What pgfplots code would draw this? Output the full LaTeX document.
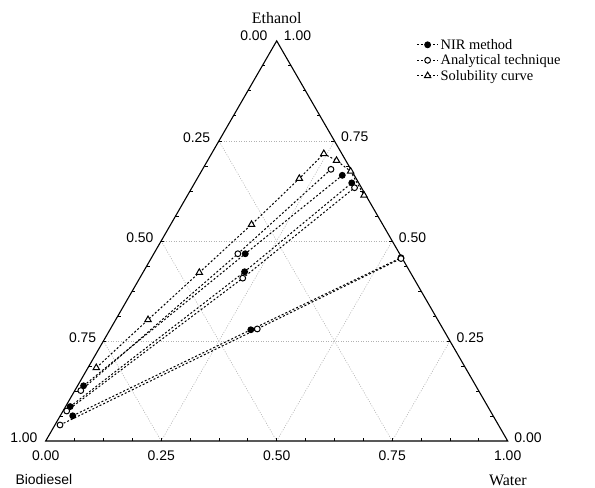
\documentclass[border=0pt]{standalone}
\usepackage{fontspec}
\setmainfont{Liberation Serif}
\newfontfamily\arial{Liberation Sans}
\usepackage{pgfplots}
\usepackage{pgfplotstable}
\pgfplotsset{compat=1.18}

% mass fractions: biodiesel (B), water (W), ethanol (E)
\pgfplotstableread{
B      W      E
0.800  0.018  0.183
0.627  0.070  0.303
0.458  0.122  0.421
0.284  0.175  0.541
0.123  0.221  0.656
0.039  0.243  0.718
0.020  0.279  0.701
0.003  0.323  0.674
0.004  0.382  0.614
}\solub

% NIR method, three tie lines (left end, feed, right end)
\pgfplotstableread{
B      W      E
0.850  0.013  0.138
0.335  0.198  0.468
0.026  0.310  0.664
}\nirA
\pgfplotstableread{
B      W      E
0.905  0.010  0.086
0.359  0.219  0.423
0.015  0.340  0.645
}\nirB
\pgfplotstableread{
B      W      E
0.910  0.027  0.063
0.417  0.305  0.278
0.003  0.540  0.458
}\nirC

% analytical technique
\pgfplotstableread{
B      W      E
0.861  0.013  0.126
0.351  0.182  0.468
0.043  0.278  0.679
}\anaA
\pgfplotstableread{
B      W      E
0.917  0.008  0.075
0.370  0.223  0.407
0.016  0.352  0.633
}\anaB
\pgfplotstableread{
B      W      E
0.949  0.011  0.040
0.402  0.318  0.280
0.003  0.541  0.456
}\anaC

\pgfplotsset{
  table/tern/.style={x expr=\thisrow{W}+0.5*\thisrow{E}, y expr=0.8660254*\thisrow{E}},
  tie/.style={black, line width=1bp, dash pattern=on 2bp off 2bp},
  gridl/.style={black!30, line width=0.6bp, dash pattern=on 1bp off 1.5bp, forget plot},
  tickm/.style={black, line width=0.8bp, forget plot},
}
\tikzset{tl/.style={font=\arial\fontsize{14}{16}\selectfont, inner sep=0pt}}

\begin{document}
\begin{tikzpicture}
\begin{axis}[
  scale only axis, width=595bp, height=488bp,
  xmin=-0.0989, xmax=1.1890, ymin=-0.1017, ymax=0.9545,
  hide axis, clip=false,
  legend style={draw=none, fill=none, at={(axis cs:0.796,0.879)}, anchor=north west,
    font=\fontsize{14.5}{17}\selectfont, row sep=0pt},
  legend cell align=left,
  legend image code/.code={\draw[#1, mark repeat=2, mark phase=2]
    plot coordinates {(0bp,0bp) (10.5bp,0bp) (21bp,0bp)};},
]
\path (rel axis cs:0,0) rectangle (rel axis cs:1,1);

% grid
\addplot[gridl] coordinates {(0.125,0.21651) (0.875,0.21651)};
\addplot[gridl] coordinates {(0.25,0.43301) (0.75,0.43301)};
\addplot[gridl] coordinates {(0.375,0.64952) (0.625,0.64952)};
\addplot[gridl] coordinates {(0.25,0) (0.625,0.64952)};
\addplot[gridl] coordinates {(0.5,0) (0.75,0.43301)};
\addplot[gridl] coordinates {(0.75,0) (0.875,0.21651)};
\addplot[gridl] coordinates {(0.25,0) (0.125,0.21651)};
\addplot[gridl] coordinates {(0.5,0) (0.25,0.43301)};
\addplot[gridl] coordinates {(0.75,0) (0.375,0.64952)};

% triangle
\addplot[black, line width=1.1bp, line join=miter, forget plot]
  coordinates {(0,0) (1,0) (0.5,0.8660254) (0,0)} -- cycle;

% ticks
\addplot[tickm, quiver={u=0, v=0.0065}] coordinates {
(0.0625,0) (0.125,0) (0.1875,0) (0.25,0) (0.3125,0) (0.375,0) (0.4375,0) (0.5,0)
(0.5625,0) (0.625,0) (0.6875,0) (0.75,0) (0.8125,0) (0.875,0) (0.9375,0)};
\addplot[tickm, quiver={u=0.0065, v=0}] coordinates {
(0.03125,0.05413) (0.0625,0.10825) (0.09375,0.16238) (0.125,0.21651) (0.15625,0.27063)
(0.1875,0.32476) (0.21875,0.37889) (0.25,0.43301) (0.28125,0.48714) (0.3125,0.54127)
(0.34375,0.59539) (0.375,0.64952) (0.40625,0.70365) (0.4375,0.75777) (0.46875,0.81190)};
\addplot[tickm, quiver={u=-0.0065, v=0}] coordinates {
(0.96875,0.05413) (0.9375,0.10825) (0.90625,0.16238) (0.875,0.21651) (0.84375,0.27063)
(0.8125,0.32476) (0.78125,0.37889) (0.75,0.43301) (0.71875,0.48714) (0.6875,0.54127)
(0.65625,0.59539) (0.625,0.64952) (0.59375,0.70365) (0.5625,0.75777) (0.53125,0.81190)};

% data
\addplot[tie, mark=*, mark size=2.9bp, mark options={solid, fill=black}] table[tern] {\nirA};
\addplot[tie, mark=*, mark size=2.9bp, mark options={solid, fill=white}] table[tern] {\anaA};
\addplot[tie, mark=triangle*, mark size=3.7bp, mark options={solid, fill=white}] table[tern] {\solub};
\addplot[tie, forget plot, mark=*, mark size=2.9bp, mark options={solid, fill=black}] table[tern] {\nirB};
\addplot[tie, forget plot, mark=*, mark size=2.9bp, mark options={solid, fill=black}] table[tern] {\nirC};
\addplot[tie, forget plot, mark=*, mark size=2.9bp, mark options={solid, fill=white}] table[tern] {\anaB};
\addplot[tie, forget plot, mark=*, mark size=2.9bp, mark options={solid, fill=white}] table[tern] {\anaC};
\legend{NIR method, Analytical technique, Solubility curve}

% tick labels: water (bottom)
\node[tl, anchor=north, yshift=-10bp] at (axis cs:0,0) {0.00};
\node[tl, anchor=north, yshift=-10bp] at (axis cs:0.25,0) {0.25};
\node[tl, anchor=north, yshift=-10bp] at (axis cs:0.5,0) {0.50};
\node[tl, anchor=north, yshift=-10bp] at (axis cs:0.75,0) {0.75};
\node[tl, anchor=north, yshift=-10bp] at (axis cs:1,0) {1.00};
% biodiesel (left)
\node[tl, anchor=east, xshift=-8bp, yshift=3.5bp] at (axis cs:0,0) {1.00};
\node[tl, anchor=east, xshift=-7bp, yshift=3.5bp] at (axis cs:0.125,0.21651) {0.75};
\node[tl, anchor=east, xshift=-7.5bp, yshift=3.5bp] at (axis cs:0.25,0.43301) {0.50};
\node[tl, anchor=east, xshift=-8.5bp, yshift=3.5bp] at (axis cs:0.375,0.64952) {0.25};
\node[tl, anchor=east, xshift=-9bp, yshift=5bp] at (axis cs:0.5,0.8660254) {0.00};
% ethanol (right)
\node[tl, anchor=west, xshift=6.5bp, yshift=3.5bp] at (axis cs:1,0) {0.00};
\node[tl, anchor=west, xshift=6.5bp, yshift=3.5bp] at (axis cs:0.875,0.21651) {0.25};
\node[tl, anchor=west, xshift=6.5bp, yshift=3.5bp] at (axis cs:0.75,0.43301) {0.50};
\node[tl, anchor=west, xshift=6.5bp, yshift=4.5bp] at (axis cs:0.625,0.64952) {0.75};
\node[tl, anchor=west, xshift=7bp, yshift=5bp] at (axis cs:0.5,0.8660254) {1.00};

% component names
\node[font=\fontsize{16}{18}\selectfont, inner sep=0pt] at (axis cs:0.5,0.916) {Ethanol};
\node[tl] at (axis cs:-0.004,-0.0844) {Biodiesel};
\node[font=\fontsize{16}{18}\selectfont, inner sep=0pt] at (axis cs:1.0006,-0.0855) {Water};
\end{axis}
\end{tikzpicture}
\end{document}
